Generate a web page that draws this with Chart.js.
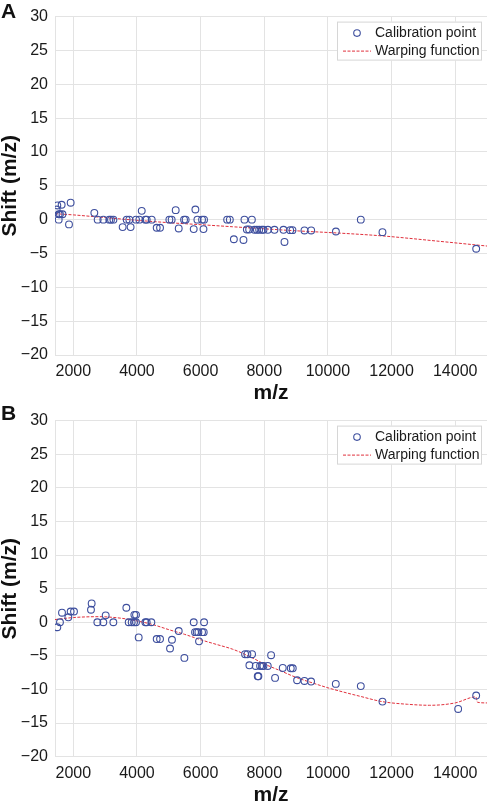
<!DOCTYPE html>
<html>
<head>
<meta charset="utf-8">
<script src="https://cdn.jsdelivr.net/npm/chart.js@4.4.0/dist/chart.umd.min.js"></script>
<style>
  html, body { margin: 0; padding: 0; background: #fff; overflow: hidden; }
  body { width: 487px; height: 803px; position: relative; font-family: "Liberation Sans", Arial, sans-serif; }
  .panel { position: absolute; left: 0; width: 487px; }
  .letter { position: absolute; left: 1px; font-weight: bold; font-size: 21px; color: #111; line-height: 1; }
</style>
</head>
<body>
<div class="panel" id="wrapA" style="top:0;height:404px"><canvas id="chartA"></canvas></div>
<div class="panel" id="wrapB" style="top:404px;height:402px"><canvas id="chartB"></canvas></div>
<div class="letter" style="top:0px">A</div>
<div class="letter" style="top:402px">B</div>
<script>
// Panel A: calibration points (m/z, shift)
const mzA = [1476, 1497, 1633, 1540, 1580, 1660, 1540, 1864, 1916, 2660, 2765, 2943, 3130, 3184, 3260,
  3550, 3677, 3760, 3800, 3970, 4075, 4150, 4264, 4306, 4463, 4620, 4725, 5018, 5090, 5217, 5312,
  5480, 5530, 5783, 5836, 5899, 6045, 6090, 6108, 6834, 6918, 7045, 7347, 7378, 7453, 7525, 7611,
  7692, 7768, 7840, 7925, 7976, 8114, 8321, 8604, 8636, 8815, 8887, 9264, 9475, 10252, 11034, 11715, 14660];
const shiftA = [1.5, 2.1, 2.2, 0.8, 0.8, 0.8, 0, -0.7, 2.5, 1.0, 0, 0, 0, 0, 0,
  -1.1, 0, 0, -1.1, 0, 0, 1.3, 0, 0, 0, -1.2, -1.2, 0, 0, 1.4, -1.3,
  0, 0, -1.4, 1.5, 0, 0, -1.4, 0, 0, 0, -2.9, -3.0, 0, -1.45, -1.45, 0,
  -1.5, -1.5, -1.5, -1.5, -1.5, -1.5, -1.5, -1.5, -3.3, -1.55, -1.55, -1.6, -1.6, -1.75, 0, -1.85, -4.3];
// Panel A: warping function samples
const curveMzA = [1424, 2000, 3365, 4000, 5000, 5984, 7000, 7924, 9000, 10400, 11700, 13500, 15000];
const curveA = [0.88, 0.7, 0.15, -0.1, -0.45, -0.74, -1.05, -1.33, -1.65, -2.0, -2.4, -3.2, -3.9];

// Panel B: calibration points (m/z, shift)
const mzB = [1497, 1580, 1644, 1843, 1916, 2021, 2576, 2555, 2755, 2943, 3017, 3258, 3666, 3740, 3834,
  3907, 3970, 3918, 3970, 4054, 4264, 4306, 4452, 4620, 4725, 5039, 5100, 5312, 5490, 5783, 5825,
  5878, 5930, 5950, 6045, 6098, 6108, 7397, 7470, 7617, 7533, 7732, 7869, 7932, 7974, 8110, 8215,
  8581, 8833, 8896, 7795, 7816, 8340, 9032, 9263, 9472, 10248, 11034, 11715, 14094, 14660];
const shiftB = [-0.74, 0, 1.42, 0.74, 1.6, 1.6, 2.8, 1.86, 0, 0, 1.03, 0, 2.16, 0, 0,
  0, 0, 1.1, 1.1, -2.25, 0, 0, 0, -2.5, -2.5, -3.9, -2.6, -1.3, -5.3, 0, -1.47,
  -1.47, -1.47, -2.84, -1.47, -1.47, 0, -4.75, -4.75, -4.75, -6.4, -6.5, -6.5, -6.5, -6.5, -6.5, -4.9,
  -6.8, -6.85, -6.85, -8.04, -8.04, -8.28, -8.63, -8.73, -8.82, -9.17, -9.5, -11.8, -12.9, -10.9];
// Panel B: warping function samples
const curveMzB = [1424, 2000, 2800, 3500, 4000, 4500, 5000, 5500, 6000, 6500, 7000, 7500, 8000, 8500,
  9000, 9500, 10000, 10500, 11000, 11700, 12500, 13200, 14000, 14650, 14700, 15000];
const curveB = [0.4, 0.7, 0.83, 0.6, 0.2, -0.35, -1.1, -1.8, -2.6, -3.3, -4.0, -5.0, -6.2, -7.2,
  -8.2, -9.0, -9.75, -10.4, -11.0, -11.8, -12.2, -12.35, -12.0, -11.1, -11.9, -12.0];

// Axis ticks
const xTicks = [2000, 4000, 6000, 8000, 10000, 12000, 14000];
const yTicks = [-20, -15, -10, -5, 0, 5, 10, 15, 20, 25, 30];
const xMin = 1424, xMax = 15000;
const yMin = -20, yMax = 30;

// Legend drawn inside the plot area, top right
const insideLegend = {
  id: 'insideLegend',
  afterDraw(chart) {
    const ctx = chart.ctx;
    const area = chart.chartArea;
    const right = area.right - 5;
    const left = right - 145;
    const top = area.top + 5;
    ctx.save();
    ctx.fillStyle = '#fff';
    ctx.fillRect(left, top, 145, 39);
    ctx.strokeStyle = '#d6d6d6';
    ctx.lineWidth = 1;
    ctx.strokeRect(left + 0.5, top + 0.5, 144, 38);

    const ds = chart.data.datasets;
    // marker sample
    ctx.beginPath();
    ctx.arc(left + 20, top + 11.5, 3.3, 0, Math.PI * 2);
    ctx.strokeStyle = ds[0].borderColor;
    ctx.lineWidth = 1.1;
    ctx.stroke();
    // dashed line sample
    ctx.beginPath();
    ctx.setLineDash([3, 1.5]);
    ctx.moveTo(left + 6, top + 29.5);
    ctx.lineTo(left + 34, top + 29.5);
    ctx.strokeStyle = ds[1].borderColor;
    ctx.lineWidth = 1;
    ctx.stroke();
    ctx.setLineDash([]);

    ctx.fillStyle = '#1a1a1a';
    ctx.font = '14px "Liberation Sans", Arial, sans-serif';
    ctx.textBaseline = 'middle';
    ctx.fillText(ds[0].label, left + 38, top + 11.5);
    ctx.fillText(ds[1].label, left + 38, top + 29.5);
    ctx.restore();
  }
};

function minusFormat(value) {
  return value < 0 ? '\u2212' + Math.abs(value) : String(value);
}

function buildChart(canvasId, mz, shift, curveMz, curve, padTop, xHeight) {
  const ctx = document.getElementById(canvasId).getContext('2d');
  return new Chart(ctx, {
    type: 'scatter',
    data: {
      datasets: [
        {
          label: 'Calibration point',
          data: mz.map((m, i) => ({ x: m, y: shift[i] })),
          borderColor: '#3e4f9e',
          backgroundColor: 'rgba(0,0,0,0)',
          borderWidth: 1.1,
          pointRadius: 3.4,
          pointHoverRadius: 3.4,
        },
        {
          label: 'Warping function',
          type: 'line',
          data: curveMz.map((m, i) => ({ x: m, y: curve[i] })),
          borderColor: '#e0303c',
          borderWidth: 1,
          borderDash: [3, 1.5],
          pointRadius: 0,
          cubicInterpolationMode: 'monotone',
          fill: false,
        }
      ]
    },
    options: {
      responsive: true,
      maintainAspectRatio: false,
      animation: false,
      events: [],
      layout: { autoPadding: false, padding: { top: padTop, right: 0, bottom: 0, left: 0 } },
      plugins: {
        legend: { display: false },
        tooltip: { enabled: false },
      },
      scales: {
        x: {
          type: 'linear',
          min: xMin,
          max: xMax,
          grid: { color: '#e3e3e3', drawTicks: false },
          border: { color: '#e3e3e3' },
          afterBuildTicks: scale => { scale.ticks = xTicks.map(v => ({ value: v })); },
          ticks: {
            autoSkip: false,
            padding: 7,
            color: '#1a1a1a',
            font: { family: '"Liberation Sans", Arial, sans-serif', size: 16 },
            callback: v => String(v),
            maxRotation: 0,
          },
          title: {
            display: true,
            text: 'm/z',
            color: '#111',
            padding: 0,
            font: { family: '"Liberation Sans", Arial, sans-serif', size: 21, weight: 'bold', lineHeight: 1 },
          },
          afterFit: scale => { scale.height = xHeight; },
        },
        y: {
          min: yMin,
          max: yMax,
          grid: { color: '#e3e3e3', drawTicks: false },
          border: { color: '#e3e3e3' },
          afterBuildTicks: scale => { scale.ticks = yTicks.map(v => ({ value: v })); },
          ticks: {
            autoSkip: false,
            padding: 7,
            color: '#1a1a1a',
            font: { family: '"Liberation Sans", Arial, sans-serif', size: 16 },
            callback: minusFormat,
          },
          title: {
            display: true,
            text: 'Shift (m/z)',
            color: '#111',
            padding: 0,
            font: { family: '"Liberation Sans", Arial, sans-serif', size: 21, weight: 'bold', lineHeight: 1 },
          },
          afterFit: scale => { scale.width = 55; },
        },
      },
    },
    plugins: [insideLegend],
  });
}

document.addEventListener('DOMContentLoaded', function () {
  // plot area A: y 15..355, plot area B: y 416.7..756.7
  buildChart('chartA', mzA, shiftA, curveMzA, curveA, 15, 404 - 355);
  buildChart('chartB', mzB, shiftB, curveMzB, curveB, 12.7, 402 - 352.7);
});
</script>
</body>
</html>
